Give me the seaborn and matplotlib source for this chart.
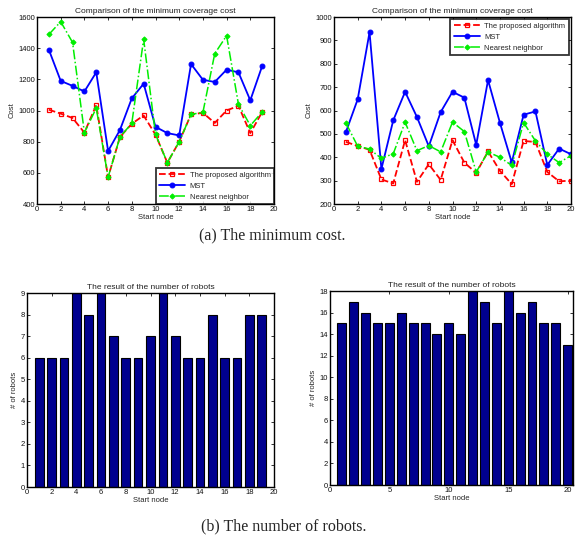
import numpy as np
import pandas as pd
import matplotlib
matplotlib.use("Agg")
import matplotlib.pyplot as plt
import seaborn as sns

# ---- data ----
nodes_a = list(range(1, 20))
proposed_a = [1005, 980, 952, 858, 1035, 572, 830, 915, 968, 845, 665, 800, 975, 985, 920, 1000, 1030, 855, 990]
mst_a = [1390, 1190, 1158, 1122, 1245, 740, 875, 1078, 1172, 895, 855, 840, 1298, 1197, 1183, 1262, 1245, 1065, 1285]
nn_a = [1488, 1570, 1437, 858, 1015, 572, 830, 918, 1457, 848, 665, 800, 975, 988, 1365, 1480, 1040, 903, 990]

nodes_b = list(range(1, 21))
proposed_b = [466, 448, 432, 305, 288, 473, 295, 370, 303, 473, 377, 333, 425, 342, 285, 470, 465, 337, 297, 300]
mst_b = [507, 648, 935, 350, 558, 680, 572, 447, 593, 680, 655, 453, 730, 548, 378, 582, 596, 367, 437, 413]
nn_b = [547, 447, 435, 395, 415, 550, 428, 450, 423, 550, 510, 337, 422, 400, 365, 548, 470, 413, 377, 407]

robots_a = [6, 6, 6, 9, 8, 9, 7, 6, 6, 7, 9, 7, 6, 6, 8, 6, 6, 8, 8]
robots_b = [15, 17, 16, 15, 15, 16, 15, 15, 14, 15, 14, 18, 17, 15, 18, 16, 17, 15, 15, 13]

series_labels = ["The proposed algorithm", "MST", "Nearest neighbor"]

sns.set_style("ticks")
plt.rcParams['font.family'] = ['Liberation Sans', 'DejaVu Sans']
plt.rcParams['xtick.direction'] = 'in'
plt.rcParams['ytick.direction'] = 'in'
plt.rcParams['xtick.top'] = True
plt.rcParams['ytick.right'] = True
plt.rcParams['xtick.major.size'] = 2.5
plt.rcParams['ytick.major.size'] = 2.5
plt.rcParams['axes.linewidth'] = 1.0

W, H = 578, 547
fig = plt.figure(figsize=(W / 100, H / 100), dpi=100)

def frac(l, t, r, b):
    return [l / W, 1 - b / H, (r - l) / W, (b - t) / H]

FS = 5.5
TITLE_FS = 6

def style_axes(ax, title, ylabel):
    ax.set_title(title, fontsize=TITLE_FS, pad=3, color='#222222')
    ax.set_xlabel("Start node", fontsize=FS, labelpad=1)
    ax.set_ylabel(ylabel, fontsize=FS, labelpad=2)
    ax.tick_params(labelsize=FS, pad=1.5, width=0.6, colors='#111111')
    for s in ax.spines.values():
        s.set_color('black')
        s.set_linewidth(1.0)

def line_panel(ax, nodes, p, m, n):
    df = pd.DataFrame({"node": nodes, "p": p, "m": m, "n": n})
    sns.lineplot(data=df, x="node", y="p", ax=ax, color='red', linestyle='--', lw=1.3,
                 marker='s', markersize=3.5, markerfacecolor='none', markeredgecolor='red',
                 markeredgewidth=0.9, label=series_labels[0])
    sns.lineplot(data=df, x="node", y="m", ax=ax, color='blue', linestyle='-', lw=1.3,
                 marker='o', markersize=3.5, markerfacecolor='blue', markeredgecolor='blue',
                 label=series_labels[1])
    sns.lineplot(data=df, x="node", y="n", ax=ax, color='#00ee00', linestyle='-.', lw=1.1,
                 marker='D', markersize=2.6, markerfacecolor='#00ee00', markeredgecolor='#00ee00',
                 label=series_labels[2])

def make_legend(ax, loc, pad):
    leg = ax.legend(loc=loc, fontsize=FS, frameon=True, fancybox=False,
                    borderaxespad=pad, handlelength=3.4, borderpad=0.45,
                    labelspacing=0.45, handletextpad=0.6)
    leg.get_frame().set_edgecolor('black')
    leg.get_frame().set_linewidth(1.3)

# ---- top-left ----
ax1 = fig.add_axes(frac(37, 17, 274, 204))
line_panel(ax1, nodes_a, proposed_a, mst_a, nn_a)
ax1.set_xlim(0, 20)
ax1.set_ylim(400, 1600)
ax1.set_xticks(range(0, 21, 2))
ax1.set_yticks(range(400, 1601, 200))
style_axes(ax1, "Comparison of the minimum coverage cost", "Cost")
make_legend(ax1, 'lower right', 0.0)

# ---- top-right ----
ax2 = fig.add_axes(frac(334, 17, 571, 204))
line_panel(ax2, nodes_b, proposed_b, mst_b, nn_b)
ax2.set_xlim(0, 20)
ax2.set_ylim(200, 1000)
ax2.set_xticks(range(0, 21, 2))
ax2.set_yticks(range(200, 1001, 100))
style_axes(ax2, "Comparison of the minimum coverage cost", "Cost")
make_legend(ax2, 'upper right', 0.3)

# ---- bottom-left ----
ax3 = fig.add_axes(frac(27, 293, 274, 487))
sns.barplot(x=nodes_a, y=robots_a, native_scale=True, ax=ax3, color='#00008F',
            saturation=1, width=0.7, edgecolor='black', linewidth=0.8)
ax3.set_xlim(0, 20)
ax3.set_ylim(0, 9)
ax3.set_xticks(range(0, 21, 2))
ax3.set_xticklabels([str(v) for v in range(0, 21, 2)])
ax3.set_yticks(range(0, 10))
style_axes(ax3, "The result of the number of robots", "# of robots")

# ---- bottom-right ----
ax4 = fig.add_axes(frac(330, 291, 573, 485))
sns.barplot(x=nodes_b, y=robots_b, native_scale=True, ax=ax4, color='#00008F',
            saturation=1, width=0.75, edgecolor='black', linewidth=0.8)
ax4.set_xlim(0, 20.45)
ax4.set_ylim(0, 18)
ax4.set_xticks(range(0, 21, 5))
ax4.set_xticklabels([str(v) for v in range(0, 21, 5)])
ax4.set_yticks(range(0, 19, 2))
style_axes(ax4, "The result of the number of robots", "# of robots")

# ---- captions ----
fig.text(272 / W, 1 - 235 / H, "(a) The minimum cost.", ha='center', va='center',
         fontsize=11.5, family=['Liberation Serif', 'DejaVu Serif'])
fig.text(284 / W, 1 - 526 / H, "(b) The number of robots.", ha='center', va='center',
         fontsize=11.5, family=['Liberation Serif', 'DejaVu Serif'])

fig.savefig("out.png", dpi=100)
